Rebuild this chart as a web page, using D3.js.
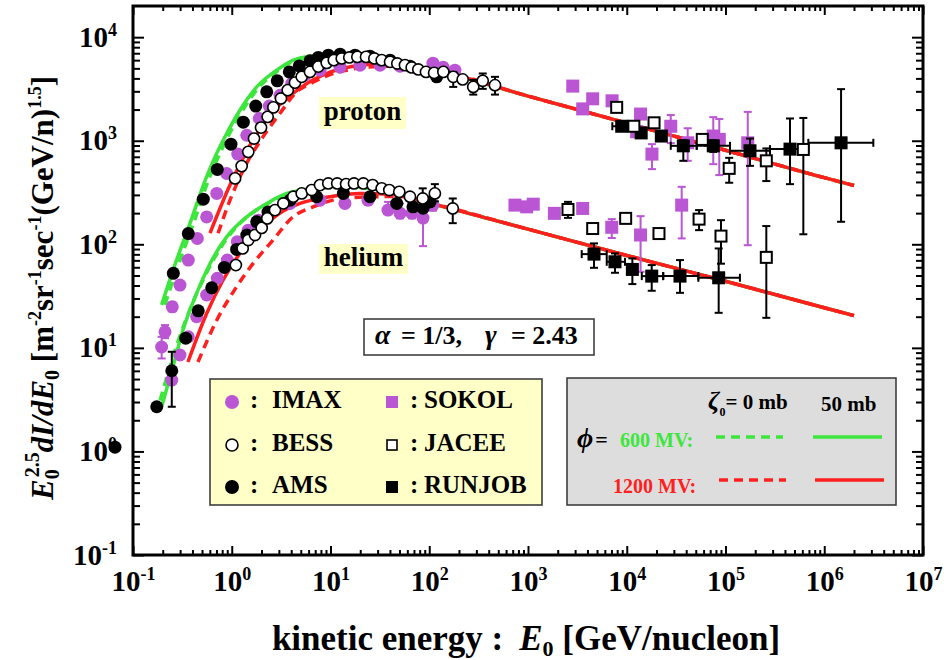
<!DOCTYPE html>
<html>
<head>
<meta charset="utf-8">
<script src="https://cdn.jsdelivr.net/npm/d3@7"></script>
<style>
body { margin: 0; background: #fff; }
text { font-family: "Liberation Serif", "Times New Roman", serif; font-weight: bold; }
</style>
</head>
<body>
<svg id="chart" width="944" height="660"></svg>
<script>
// ---- data: [E, value, errLo, errHi, xLo, xHi] ----
// proton
var imaxP = [[0.195,10.2,7.9,12.8],[0.211,14.3,12.4,16.6],[0.250,24.9,22.5,27.5],[0.299,40.4],[0.363,70.4],[0.448,114],[0.557,184],[0.705,310],[0.889,483],[1.15,743],[1.42,1130],[1.90,1640],[2.40,2160],[3.08,2750],[4.05,3570],[5.52,4300],[7.83,4800],[12.5,5130],[19.9,5370],[31.7,5370],[50.6,5250],[109,5610],[138,5130],[182,4800]];
var amsP = [[0.256,52.4],[0.363,127],[0.515,273],[0.714,528],[0.982,927],[1.31,1510],[1.75,2160],[2.26,2970],[2.89,3790],[3.83,4620],[4.83,5280],[6.20,5910],[7.52,6370],[9.50,6700],[12.5,6850],[17.7,6700],[25.1,6560],[40.1,6000],[63.8,5250],[119,4140]];
var bessP = [[1.08,433],[1.26,569],[1.47,781],[1.68,1050],[1.98,1340],[2.31,1700],[2.64,2100],[3.15,2560],[3.69,3080],[4.37,3640],[5.11,4140],[6.20,4620],[7.52,5200],[9.15,5650],[10.8,6000],[13.0,6230],[15.5,6370],[18.7,6450],[22.9,6450],[27.8,6230],[33.0,6000],[40.1,5780],[47.5,5570],[56.8,5370],[66.4,5100],[77.5,4880],[92.7,4620],[112,4520],[139,4620],[175,4140,3310,4620],[218,3910],[279,3310,2790,3870],[348,3790,3170,4460],[463,3440,2790,4140]];
var sokolP = [[2840,3370],[3580,2030],[4520,2540],[7100,2430],[12600,1220],[13800,1810],[18000,743,532,927],[27900,1380,948,1770],[41400,955,640,1320],[75200,1110,594,1690],[86500,1030,466,1620],[168000,955,98,1900]];
var jaceeP = [[7910,2100],[11800,1380],[18900,1490],[58200,1030],[109000,541,393,684],[259000,640,408,843],[614000,824,125,1660]];
var runjobP = [[8890,1380,null,null,7140,10800],[14000,1190],[22400,1110,1030,1220],[37400,893,640,1010,27900,51100],[75200,893,780,1010,51100,111000],[177000,800,572,1050,111000,282000],[450000,830,381,1640,282000,690000],[1480000,955,165,3150,690000,3140000]];
// helium
var imaxHe = [[0.247,4.89],[0.299,8.53],[0.363,12.8],[0.441,20.0],[0.557,32.4],[0.714,46.9],[0.902,70.4],[1.14,106],[1.47,137],[1.86,171],[3.89,248],[7.83,267],[14.0,248,230,288],[24.0,267,240,310],[38.2,214,196,257],[50.6,200,178,248],[66.8,200,178,230],[86.5,179,96,230],[109,239,211,288]];
var amsHe = [[0.0657,1.10],[0.174,2.70],[0.247,6.01,2.70,9.17],[0.342,12.4],[0.458,22.8],[0.627,38.0],[0.841,59.8],[1.12,89.3],[1.42,123],[1.79,165],[2.33,205],[3.89,267],[7.24,288],[13.5,310],[25.1,288],[46.8,248],[68.4,230],[86.5,223],[102,257]];
var bessHe = [[1.10,63],[1.29,91.2],[1.47,110],[1.72,123],[2.01,144],[2.29,178],[2.74,214],[3.33,248],[4.20,288],[5.11,310],[6.45,334],[7.83,373],[9.50,387],[11.7,387],[14.4,381],[17.3,387],[21.5,387],[26.7,373],[33.0,347],[39.4,334],[49.7,321],[63.8,288],[85.9,277,230,347],[114,310,260,381],[173,222,160,277]];
var sokolHe = [[738,239],[970,230],[1130,244],[1850,199],[3580,222],[7050,146,115,175],[13800,123,54.3,187],[36000,239,114,359]];
var jaceeHe = [[2540,217,180,257],[4520,142],[9750,178],[21200,127,116,140],[54000,175,137,214],[90000,120,65,171],[259000,74.8,19.5,150]];
var runjobHe = [[4660,80.4,59.3,102,3500,6270],[7600,67.8,53.1,81.7,6270,9600],[11400,57.2,41.3,73.1],[17900,49.3,35.6,63,14200,23400],[34600,49.3,34,70.4,23400,53100],[85300,47.5,21.8,91.2,53100,140000]];

// model curves (phi = 600 / 1200 MV, zeta0 = 0 / 50 mb)
var tailP = [[100,4930],[1000,2700],[1e4,1480],[1e5,810],[1e6,440],[2e6,370]];
var tailHe = [[100,251],[1000,140],[1e4,78],[1e5,44],[1e6,24.4],[2e6,20.5]];
var p600_0 = [[0.21,26],[0.275,56],[0.41,160],[0.60,450],[0.73,695],[0.95,1175],[1.29,1970],[1.9,3310],[3.0,4800],[4.4,6000],[6.5,6500],[10,6650],[20,6550],[40,5900]];
var p600_50 = [[0.195,26],[0.254,56],[0.378,160],[0.557,450],[0.676,695],[0.889,1175],[1.21,1970],[1.79,3310],[2.85,4800],[4.20,6000],[6.2,6560],[9.9,6700],[20,6550],[40,5900]];
var p1200_0 = [[0.727,128],[0.96,267],[1.42,608],[2.07,1090],[3.08,1840],[4.6,3000],[6.2,3550],[7.8,3950],[10.6,4460],[14.6,4800],[23,5150],[50,5250]];
var p1200_50 = [[0.602,128],[0.96,373],[1.53,908],[2.44,1770],[4.91,3220],[9.89,4590],[19.9,5370],[40,5600]];
var he600_0 = [[0.188,3.1],[0.226,5.7],[0.29,12],[0.40,27],[0.55,52],[0.80,98],[1.3,170],[2.2,240],[3.6,305],[6.5,340],[12.5,360],[25,345],[50,300]];
var he600_50 = [[0.195,2.7],[0.254,6.6],[0.321,14.9],[0.441,33.6],[0.602,65],[0.889,118],[1.42,184],[2.26,248],[3.6,310],[6.2,341],[12.5,365],[25,350],[50,300]];
var he1200_0 = [[0.455,7.3],[0.705,18.5],[1.12,38.9],[1.64,65],[2.62,110],[4.17,184],[6.65,230],[10.6,267],[19.9,285],[50,290]];
var he1200_50 = [[0.36,7.3],[0.557,21.5],[0.815,45],[1.21,82],[1.93,137],[3.08,200],[4.91,248],[9.89,288],[19.9,310],[50,300]];

var xTickExp = [-1,0,1,2,3,4,5,6,7];
var yTickExp = [-1,0,1,2,3,4];

var purple = "mediumorchid", green = "#3ce63c", red = "#ff1f1f";

var svg = d3.select("#chart");

var x = d3.scaleLog().domain([0.1, 1e7]).range([133, 923]);
var y = d3.scaleLog().domain([0.1, 2e4]).range([555, 6]);

var xMajor = xTickExp.map(function(e) { return Math.pow(10, e); });
var yMajor = yTickExp.map(function(e) { return Math.pow(10, e); });
var xMinor = [], yMinor = [];
xTickExp.slice(0, -1).forEach(function(e) { for (var k = 2; k < 10; k++) xMinor.push(k * Math.pow(10, e)); });
yTickExp.forEach(function(e) { for (var k = 2; k < 10; k++) if (k * Math.pow(10, e) < 2e4) yMinor.push(k * Math.pow(10, e)); });

function powLabel(sel) {
  sel.each(function(d) {
    var t = d3.select(this).text(null);
    t.append("tspan").text("10");
    t.append("tspan").attr("font-size", 18).attr("dy", -11).text(Math.round(Math.log10(d)));
  });
}

function cleanAxis(g) {
  g.select(".domain").remove();
  g.selectAll(".tick line").attr("stroke", "#000").attr("stroke-width", 2);
}

// x axes
var gx = svg.append("g").attr("transform", "translate(0,555)")
  .call(d3.axisBottom(x).tickValues(xMajor).tickSizeInner(-9).tickSizeOuter(0));
gx.call(cleanAxis);
gx.selectAll(".tick text").attr("y", 36).attr("dy", 0).attr("font-size", 29)
  .attr("font-family", "Liberation Serif").attr("fill", "#000").call(powLabel);
svg.append("g").attr("transform", "translate(0,555)")
  .call(d3.axisBottom(x).tickValues(xMinor).tickSize(-5).tickFormat("")).call(cleanAxis);
svg.append("g").attr("transform", "translate(0,6)")
  .call(d3.axisTop(x).tickValues(xMajor).tickSize(-9).tickFormat("")).call(cleanAxis);
svg.append("g").attr("transform", "translate(0,6)")
  .call(d3.axisTop(x).tickValues(xMinor).tickSize(-5).tickFormat("")).call(cleanAxis);

// y axes
var gy = svg.append("g").attr("transform", "translate(133,0)")
  .call(d3.axisLeft(y).tickValues(yMajor).tickSizeInner(-11).tickSizeOuter(0));
gy.call(cleanAxis);
gy.selectAll(".tick text").attr("x", -16).attr("dy", 9).attr("font-size", 29)
  .attr("font-family", "Liberation Serif").attr("fill", "#000").call(powLabel);
svg.append("g").attr("transform", "translate(133,0)")
  .call(d3.axisLeft(y).tickValues(yMinor).tickSize(-7).tickFormat("")).call(cleanAxis);
svg.append("g").attr("transform", "translate(923,0)")
  .call(d3.axisRight(y).tickValues(yMajor).tickSize(-11).tickFormat("")).call(cleanAxis);
svg.append("g").attr("transform", "translate(923,0)")
  .call(d3.axisRight(y).tickValues(yMinor).tickSize(-7).tickFormat("")).call(cleanAxis);

svg.append("rect").attr("x", 133).attr("y", 6).attr("width", 790).attr("height", 549)
  .attr("fill", "none").attr("stroke", "#000").attr("stroke-width", 3);

// species labels
svg.append("rect").attr("x", 319).attr("y", 97).attr("width", 87).attr("height", 32).attr("fill", "#ffffc8");
svg.append("text").attr("x", 362.5).attr("y", 120).attr("text-anchor", "middle").attr("font-size", 27).text("proton");
svg.append("rect").attr("x", 319).attr("y", 244).attr("width", 89).attr("height", 30).attr("fill", "#ffffc8");
svg.append("text").attr("x", 363.5).attr("y", 266).attr("text-anchor", "middle").attr("font-size", 27).text("helium");

// curves
var line = d3.line().x(function(d) { return x(d[0]); }).y(function(d) { return y(d[1]); }).curve(d3.curveMonotoneX);
var curves = [
  [p600_0.concat(tailP), green, "9,6"], [he600_0.concat(tailHe), green, "9,6"],
  [p600_50.concat(tailP), green, null], [he600_50.concat(tailHe), green, null],
  [p1200_0.concat(tailP), red, "9,6"], [he1200_0.concat(tailHe), red, "9,6"],
  [p1200_50.concat(tailP), red, null], [he1200_50.concat(tailHe), red, null]
];
curves.forEach(function(c) {
  svg.append("path").datum(c[0]).attr("d", line).attr("fill", "none")
    .attr("stroke", c[1]).attr("stroke-width", 3.5).attr("stroke-dasharray", c[2]);
});

// error bars
function errBars(data, color) {
  var g = svg.append("g").attr("stroke", color).attr("stroke-width", 2).attr("fill", "none");
  data.forEach(function(d) {
    var cx = x(d[0]), cy = y(d[1]);
    if (d[2] != null) {
      var y0 = y(d[2]), y1 = y(d[3]);
      g.append("line").attr("x1", cx).attr("x2", cx).attr("y1", y0).attr("y2", y1);
      g.append("line").attr("x1", cx - 4).attr("x2", cx + 4).attr("y1", y0).attr("y2", y0);
      g.append("line").attr("x1", cx - 4).attr("x2", cx + 4).attr("y1", y1).attr("y2", y1);
    }
    if (d[4] != null) {
      var x0 = x(d[4]), x1 = x(d[5]);
      g.append("line").attr("x1", x0).attr("x2", x1).attr("y1", cy).attr("y2", cy);
      g.append("line").attr("x1", x0).attr("x2", x0).attr("y1", cy - 4).attr("y2", cy + 4);
      g.append("line").attr("x1", x1).attr("x2", x1).attr("y1", cy - 4).attr("y2", cy + 4);
    }
  });
}

function circles(data, fill, stroke, r) {
  errBars(data, fill === purple ? purple : "#000");
  svg.append("g").selectAll("circle").data(data).enter().append("circle")
    .attr("cx", function(d) { return x(d[0]); }).attr("cy", function(d) { return y(d[1]); })
    .attr("r", r).attr("fill", fill).attr("stroke", stroke).attr("stroke-width", stroke === "none" ? 0 : 1.6);
}

function squares(data, fill, stroke, s) {
  errBars(data, fill === purple ? purple : "#000");
  svg.append("g").selectAll("rect").data(data).enter().append("rect")
    .attr("x", function(d) { return x(d[0]) - s / 2; }).attr("y", function(d) { return y(d[1]) - s / 2; })
    .attr("width", s).attr("height", s).attr("fill", fill).attr("stroke", stroke)
    .attr("stroke-width", stroke === "none" ? 0 : 2);
}

circles(imaxHe, purple, "none", 6.5);
circles(imaxP, purple, "none", 6.5);
circles(amsHe, "#000", "none", 6.5);
circles(amsP, "#000", "none", 6.5);
circles(bessHe, "#fff", "#000", 5.6);
circles(bessP, "#fff", "#000", 5.6);
squares(sokolHe, purple, "none", 13);
squares(sokolP, purple, "none", 13);
squares(runjobHe, "#000", "none", 13);
squares(runjobP, "#000", "none", 13);
squares(jaceeHe, "#fff", "#000", 11);
squares(jaceeP, "#fff", "#000", 11);

// alpha / gamma box
svg.append("rect").attr("x", 364).attr("y", 319).attr("width", 230).attr("height", 36)
  .attr("fill", "#fff").attr("stroke", "#333").attr("stroke-width", 1.5);
svg.append("text").attr("x", 375).attr("y", 344).attr("font-size", 28).attr("font-style", "italic").text("α");
svg.append("text").attr("x", 401).attr("y", 344).attr("font-size", 26).text("= 1/3,");
svg.append("text").attr("x", 485).attr("y", 344).attr("font-size", 28).attr("font-style", "italic").text("γ");
svg.append("text").attr("x", 511).attr("y", 344).attr("font-size", 26).text("= 2.43");

// experiment legend
svg.append("rect").attr("x", 210).attr("y", 379).attr("width", 332).attr("height", 126)
  .attr("fill", "#ffffc8").attr("stroke", "#333").attr("stroke-width", 1.5);
var legItems = [
  ["IMAX", "circle", purple, "none", 232, 402, 250, 272],
  ["BESS", "circle", "#fff", "#000", 232, 445, 250, 272],
  ["AMS", "circle", "#000", "none", 232, 487, 250, 272],
  ["SOKOL", "square", purple, "none", 392, 402, 410, 424],
  ["JACEE", "square", "#fff", "#000", 392, 445, 410, 424],
  ["RUNJOB", "square", "#000", "none", 392, 487, 410, 424]
];
legItems.forEach(function(it) {
  if (it[1] === "circle") {
    svg.append("circle").attr("cx", it[4]).attr("cy", it[5]).attr("r", it[3] === "none" ? 7 : 6)
      .attr("fill", it[2]).attr("stroke", it[3]).attr("stroke-width", 1.6);
  } else {
    var s = it[3] === "none" ? 12 : 10;
    svg.append("rect").attr("x", it[4] - s / 2).attr("y", it[5] - s / 2).attr("width", s).attr("height", s)
      .attr("fill", it[2]).attr("stroke", it[3]).attr("stroke-width", 1.6);
  }
  svg.append("text").attr("x", it[6]).attr("y", it[5] + 6).attr("font-size", 25).text(":");
  svg.append("text").attr("x", it[7]).attr("y", it[5] + 6).attr("font-size", 25).text(it[0]);
});

// model legend
svg.append("rect").attr("x", 567).attr("y", 378).attr("width", 329).attr("height", 127)
  .attr("fill", "#dddddd").attr("stroke", "#333").attr("stroke-width", 1.5);
var zt = svg.append("text").attr("x", 708).attr("y", 409).attr("font-size", 26);
zt.append("tspan").attr("font-style", "italic").text("ζ");
zt.append("tspan").attr("font-size", 12).attr("dy", 7).text("0");
zt.append("tspan").attr("font-size", 21).attr("dy", -7).text("= 0 mb");
svg.append("text").attr("x", 821).attr("y", 411).attr("font-size", 21).text("50 mb");
var pt = svg.append("text").attr("x", 577).attr("y", 447).attr("font-size", 28);
pt.append("tspan").attr("font-style", "italic").text("ϕ");
pt.append("tspan").attr("font-size", 22).attr("dx", 2).text("=");
svg.append("text").attr("x", 620).attr("y", 447).attr("font-size", 20).attr("fill", green).text("600 MV:");
svg.append("text").attr("x", 613).attr("y", 493).attr("font-size", 20).attr("fill", red).text("1200 MV:");
var legLines = [[716, 783, 437, green, "9,6"], [813, 882, 437, green, null], [719, 786, 480, red, "9,6"], [815, 884, 480, red, null]];
legLines.forEach(function(l) {
  svg.append("line").attr("x1", l[0]).attr("x2", l[1]).attr("y1", l[2]).attr("y2", l[2])
    .attr("stroke", l[3]).attr("stroke-width", 3.5).attr("stroke-dasharray", l[4]);
});

// axis titles
var xt = svg.append("text").attr("x", 526).attr("y", 650).attr("text-anchor", "middle").attr("font-size", 35);
xt.append("tspan").text("kinetic energy :");
xt.append("tspan").attr("font-style", "italic").attr("dx", 16).text("E");
xt.append("tspan").attr("font-size", 22).attr("dy", 6).text("0");
xt.append("tspan").attr("dy", -6).text(" [GeV/nucleon]");

var yt = svg.append("text").attr("transform", "translate(53,288) rotate(-90)")
  .attr("text-anchor", "middle").attr("font-size", 31);
yt.append("tspan").attr("font-style", "italic").text("E");
yt.append("tspan").attr("font-size", 20).attr("dy", 6).text("0");
yt.append("tspan").attr("font-size", 20).attr("dx", -8).attr("dy", -20).text("2.5");
yt.append("tspan").attr("font-style", "italic").attr("dy", 14).text("dI/dE");
yt.append("tspan").attr("font-size", 20).attr("dy", 6).text("0");
yt.append("tspan").attr("dy", -6).text(" [m");
yt.append("tspan").attr("font-size", 18).attr("dy", -12).text("-2");
yt.append("tspan").attr("dy", 12).text("sr");
yt.append("tspan").attr("font-size", 18).attr("dy", -12).text("-1");
yt.append("tspan").attr("dy", 12).text("sec");
yt.append("tspan").attr("font-size", 18).attr("dy", -12).text("-1");
yt.append("tspan").attr("dy", 12).text("(GeV/n)");
yt.append("tspan").attr("font-size", 18).attr("dy", -12).text("1.5");
yt.append("tspan").attr("dy", 12).text("]");
</script>
</body>
</html>
